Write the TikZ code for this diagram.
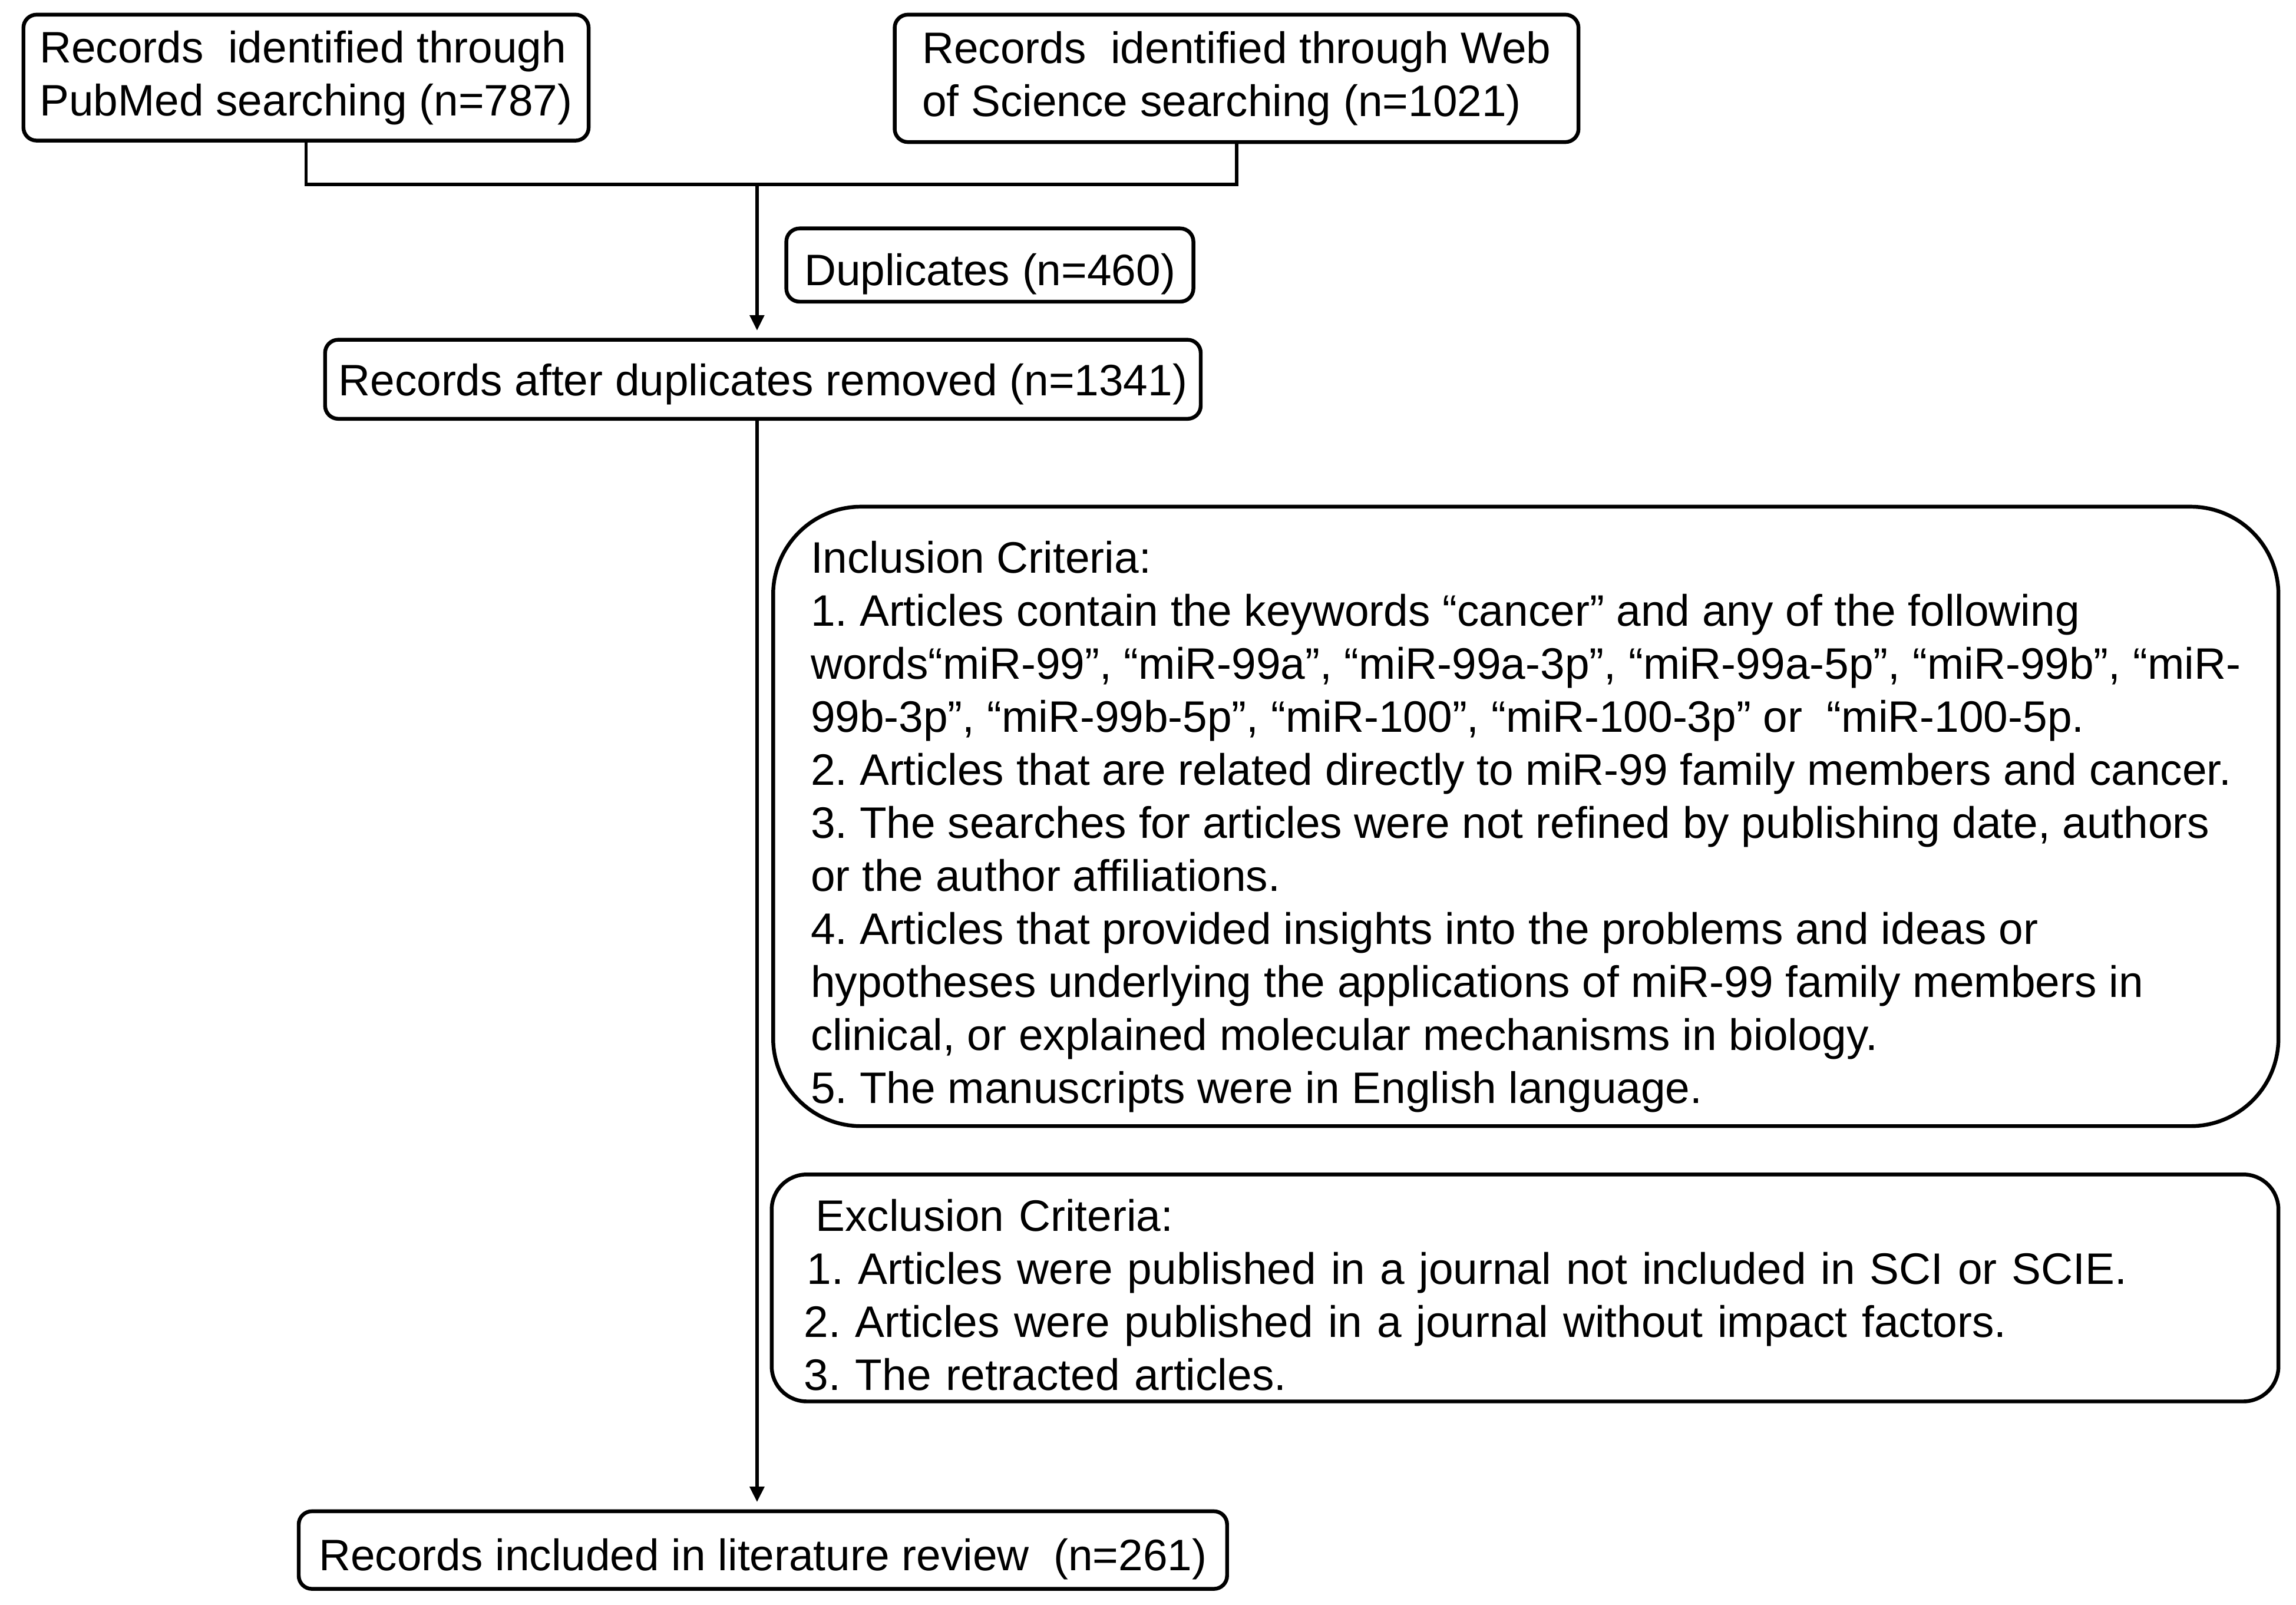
\documentclass[tikz,border=0pt]{standalone}
\usepackage{fontspec}
\setmainfont{Liberation Sans}
\usetikzlibrary{arrows.meta}
\frenchspacing

\begin{document}
\begin{tikzpicture}[x=1pt, y=-1pt]

\tikzstyle{box} = [draw, line width=2.6pt, rounded corners=9pt, align=left, font=\fontsize{30.1}{36.2}\selectfont]
\tikzstyle{one} = [text height=28pt, text depth=0pt]
\tikzstyle{link} = [line width=2.2pt]
\tikzstyle{arr} = [line width=2.2pt, -{Triangle[length=10.5pt, width=9.7pt]}, shorten >=5pt]

\useasboundingbox (0,0) rectangle (1568,1096);

\node[box, minimum width=386pt, minimum height=86pt] (pub) at (209,53) {Records~ identified through\\PubMed searching (n=787)};
\node[box, minimum width=467pt, minimum height=87pt] (wos) at (844.5,53.5) {Records~ identified through Web\\of Science searching (n=1021)};

\node[box, one, minimum width=278pt, minimum height=50pt] (dup) at (676,181) {Duplicates (n=460)};
\node[box, one, text height=22pt, minimum width=598pt, minimum height=54pt] (after) at (521,259) {Records after duplicates removed (n=1341)};

\node[box, rounded corners=60pt, minimum width=1028pt, minimum height=423pt] (incl) at (1042,557.5) {\rule{0pt}{36pt}Inclusion Criteria:\\
1. Articles contain the keywords “cancer” and any of the following\\
words“miR-99”, “miR-99a”, “miR-99a-3p”, “miR-99a-5p”, “miR-99b”, “miR-\\
99b-3p”, “miR-99b-5p”, “miR-100”, “miR-100-3p” or~ “miR-100-5p.\\
2. Articles that are related directly to miR-99 family members and cancer.\\
3. The searches for articles were not refined by publishing date, authors\\
or the author affiliations.\\
4. Articles that provided insights into the problems and ideas or\\
hypotheses underlying the applications of miR-99 family members in\\
clinical, or explained molecular mechanisms in biology.\\
5. The manuscripts were in English language.};

\node[box, rounded corners=24pt, text width=985pt, inner xsep=22pt, minimum height=155pt] (excl) at (1041.5,879.5) {\rule{0pt}{31pt}\hspace*{8pt}Exclusion Criteria:\\
\hspace*{2pt}1. Articles were published in a journal not included in SCI or SCIE.\\
2. Articles were published in a journal without impact factors.\\
3. The retracted articles.};

\node[box, one, minimum width=634pt, minimum height=53pt] (final) at (521,1058.5) {Records included in literature review~ (n=261)};

\coordinate (j) at (517,126);

\draw[link] (pub.south) |- (j) -| (wos.south);
\draw[arr] (j) -- (j |- after.north);
\draw[arr] (j |- after.south) -- (j |- final.north);

\end{tikzpicture}
\end{document}
